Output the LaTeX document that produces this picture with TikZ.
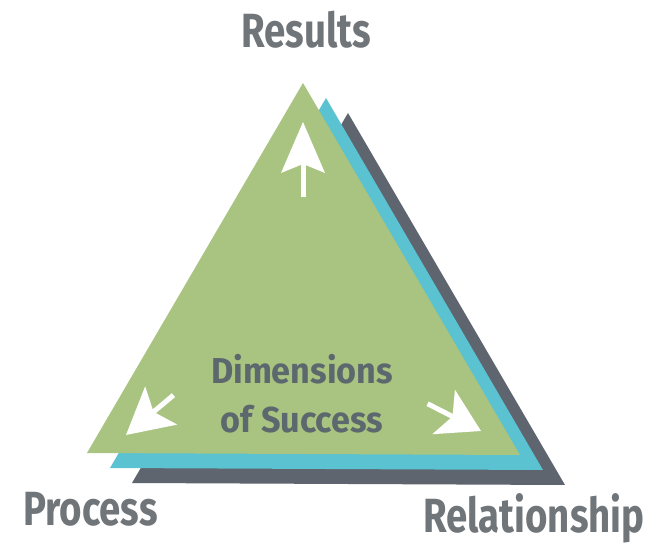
\documentclass[tikz,border=0pt]{standalone}
\usepackage{fontspec}
\usepackage{tikz}
\newfontfamily\labelfont{Fira Sans}[FakeStretch=0.8]
\newfontfamily\dimfont{Fira Sans}[FakeStretch=0.95]
\definecolor{trigreen}{RGB}{168,196,128}
\definecolor{triblue}{RGB}{90,194,208}
\definecolor{trigray}{RGB}{95,101,110}
\definecolor{labelgray}{RGB}{112,117,122}
\definecolor{dimgray}{RGB}{93,104,110}
\tikzset{
    tri/.style={fill=#1, draw=none},
    shaft/.style={white, line width=5pt},
    cornerlabel/.style={text=labelgray, font=\labelfont\bfseries\fontsize{48}{48}\selectfont, inner sep=0pt},
}

\begin{document}
\begin{tikzpicture}[x=1pt, y=-1pt]
    \useasboundingbox[fill=white] (0,0) rectangle (664,545);

    \coordinate (A) at (303,83);
    \coordinate (B) at (87,453);
    \coordinate (C) at (520,455);
    \coordinate (U) at (303,122);
    \coordinate (L) at (126,435);
    \coordinate (R) at (481,431);

    % Gray Triangle
    \fill[tri=trigray] ([shift={(45,30)}]A) -- ([shift={(45,30)}]B) -- ([shift={(45,30)}]C) -- cycle;

    % Blue Triangle
    \fill[tri=triblue] ([shift={(23,15)}]A) -- ([shift={(23,15)}]B) -- ([shift={(23,15)}]C) -- cycle;

    % Green Triangle
    \fill[tri=trigreen] (A) -- (B) -- (C) -- cycle;

    % Arrow up
    \begin{scope}[shift={(U)}, rotate=90]
        \draw[shaft] (-40,0) -- (-75,0);
        \fill[white] (0,0) -- (-51,22) -- (-42,0) -- (-51,-22) -- cycle;
    \end{scope}

    % Arrow left
    \begin{scope}[shift={(L)}, rotate=220]
        \draw[shaft] (-34,0) -- (-62,0);
        \fill[white] (0,0) -- (-46,25) -- (-36,0) -- (-46,-25) -- cycle;
    \end{scope}

    % Arrow right
    \begin{scope}[shift={(R)}, rotate=-27]
        \draw[shaft] (-30,0) -- (-60,0);
        \fill[white] (0,0) -- (-42,25) -- (-32,0) -- (-42,-25) -- cycle;
    \end{scope}

    % Labels
    \node[cornerlabel, anchor=base] (results) at (306,48) {Results};
    \node[cornerlabel, anchor=base west] (process) at (23,525) {Process};
    \node[cornerlabel, anchor=base west] (relationship) at (423,532) {Relationship};
    \node[text=dimgray, font=\dimfont\bfseries\fontsize{36}{49}\selectfont, align=center, inner sep=0pt, anchor=base] (dims) at (302,432) {Dimensions\\of Success};
\end{tikzpicture}
\end{document}
